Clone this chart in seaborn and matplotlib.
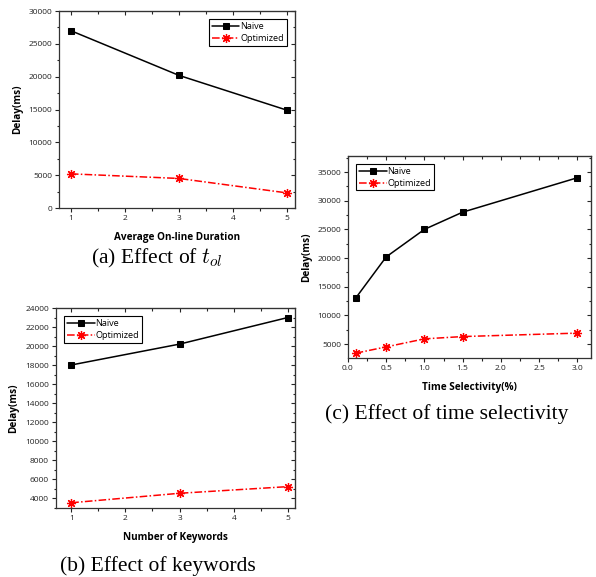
import numpy as np
import pandas as pd
import matplotlib
matplotlib.use('Agg')
import matplotlib.pyplot as plt
import seaborn as sns
from matplotlib.ticker import MultipleLocator, AutoMinorLocator

# ============================================================
# DATA
# ============================================================
durasi = [1, 3, 5]
naive_a = [27000, 20200, 14900]
opt_a = [5200, 4500, 2300]

keywords = [1, 3, 5]
naive_b = [18000, 20200, 23000]
opt_b = [3500, 4500, 5200]

selektivitas = [0.1, 0.5, 1.0, 1.5, 3.0]
naive_c = [13000, 20200, 25000, 28000, 34000]
opt_c = [3400, 4500, 5900, 6300, 6900]

# ============================================================
# STYLE
# ============================================================
sns.set_style('ticks')
plt.rcParams['font.family'] = ['Open Sans', 'DejaVu Sans']
plt.rcParams['mathtext.fontset'] = 'cm'
plt.rcParams['text.color'] = 'black'
plt.rcParams['axes.labelcolor'] = 'black'

fig = plt.figure(figsize=(5.96, 5.77), dpi=100)
W, H = 596, 577


def buat_axes(x0, y0, x1, y1):
    # koordinat piksel (atas-kiri) -> koordinat figure
    return fig.add_axes([x0 / W, 1 - y1 / H, (x1 - x0) / W, (y1 - y0) / H])


def gambar(ax, x, naive, opt, xlabel, xlim, ylim, ymajor, xmajor, loc):
    sns.lineplot(x=x, y=naive, ax=ax, color='black', lw=1.1,
                 marker='s', markersize=5, markeredgecolor='black',
                 markerfacecolor='black', label='Naive')
    sns.lineplot(x=x, y=opt, ax=ax, color='red', lw=1.1,
                 linestyle=(0, (5, 1.5, 1, 1.5)),
                 marker=(8, 2, 0), markersize=6.5, markeredgecolor='red',
                 markeredgewidth=0.9, label='Optimized')
    ax.set_xlim(*xlim)
    ax.set_ylim(*ylim)
    ax.xaxis.set_major_locator(MultipleLocator(xmajor))
    ax.yaxis.set_major_locator(MultipleLocator(ymajor))
    ax.xaxis.set_minor_locator(AutoMinorLocator(2))
    ax.yaxis.set_minor_locator(AutoMinorLocator(2))
    ax.tick_params(which='both', direction='out', top=False, right=False,
                   labelsize=6, width=0.8, colors='#222222')
    ax.tick_params(which='major', length=3, pad=2)
    ax.tick_params(which='minor', length=1.8)
    for s in ax.spines.values():
        s.set_linewidth(0.9)
        s.set_color('#333333')
    # tick dalam di sisi atas & kanan
    sec = ax.secondary_xaxis('top')
    sec.xaxis.set_major_locator(MultipleLocator(xmajor))
    sec.xaxis.set_minor_locator(AutoMinorLocator(2))
    sec.tick_params(which='both', direction='in', labeltop=False, width=0.8)
    sec.tick_params(which='major', length=3)
    sec.tick_params(which='minor', length=1.8)
    sec2 = ax.secondary_yaxis('right')
    sec2.yaxis.set_major_locator(MultipleLocator(ymajor))
    sec2.yaxis.set_minor_locator(AutoMinorLocator(2))
    sec2.tick_params(which='both', direction='in', labelright=False, width=0.8)
    sec2.tick_params(which='major', length=3)
    sec2.tick_params(which='minor', length=1.8)
    ax.set_xlabel(xlabel, fontsize=7.2, fontweight='bold', labelpad=7)
    ax.set_ylabel('Delay(ms)', fontsize=7.2, fontweight='bold', labelpad=4)
    leg = ax.legend(loc=loc, fontsize=6.6, frameon=True, fancybox=False,
                    edgecolor='black', framealpha=1, handlelength=3.0,
                    borderpad=0.3, labelspacing=0.3, handletextpad=0.1,
                    borderaxespad=0.9)
    leg.get_frame().set_linewidth(0.8)


# (a)
ax_a = buat_axes(59, 11, 295, 208)
gambar(ax_a, durasi, naive_a, opt_a, 'Average On-line Duration',
       (0.78, 5.15), (0, 30000), 5000, 1, 'upper right')
fig.text(157 / W, 1 - 258 / H, r'(a) Effect of $t_{ol}$', ha='center',
         va='center', fontsize=15.5, family='Liberation Serif', color='black')

# (b)
ax_b = buat_axes(56, 308, 295, 508)
gambar(ax_b, keywords, naive_b, opt_b, 'Number of Keywords',
       (0.72, 5.13), (2950, 24000), 2000, 1, 'upper left')
fig.text(158 / W, 1 - 566 / H, '(b) Effect of keywords', ha='center',
         va='center', fontsize=15.5, family='Liberation Serif', color='black')

# (c)
ax_c = buat_axes(348, 156, 591, 358)
gambar(ax_c, selektivitas, naive_c, opt_c, 'Time Selectivity(%)',
       (0.0, 3.18), (2560, 37800), 5000, 0.5, 'upper left')
ax_c.xaxis.set_major_formatter(matplotlib.ticker.FormatStrFormatter('%.1f'))
fig.text(447 / W, 1 - 414 / H, '(c) Effect of time selectivity', ha='center',
         va='center', fontsize=15.5, family='Liberation Serif', color='black')

fig.savefig('out.png', dpi=100)
